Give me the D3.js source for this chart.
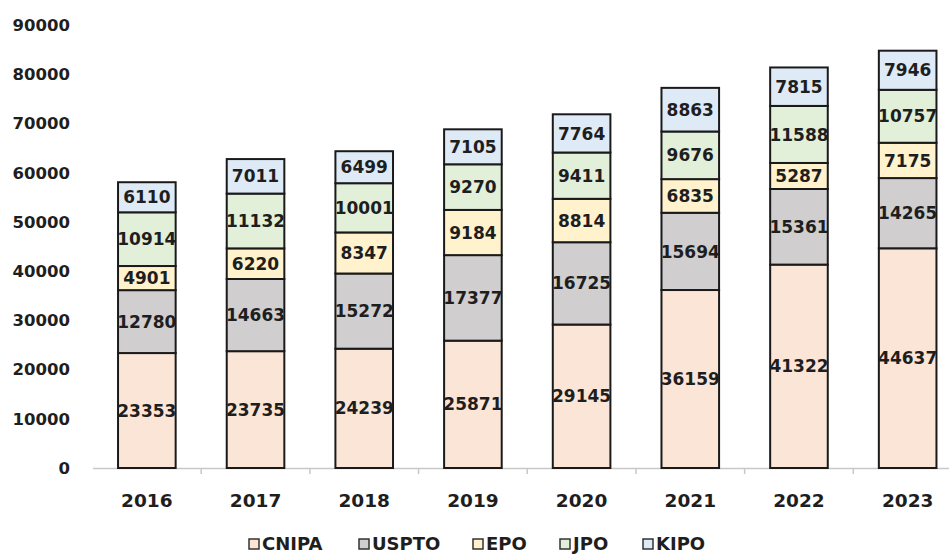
<!DOCTYPE html>
<html>
<head>
<meta charset="utf-8">
<script src="https://cdn.jsdelivr.net/npm/d3@7"></script>
<style>
  body { margin: 0; background: #fff; }
  text { font-family: "DejaVu Sans", Verdana, sans-serif; font-weight: bold; fill: #1e1e1e; }
</style>
</head>
<body>
<svg id="chart" width="949" height="554"></svg>
<script>
// data
var years = ["2016", "2017", "2018", "2019", "2020", "2021", "2022", "2023"];
var offices = ["CNIPA", "USPTO", "EPO", "JPO", "KIPO"];
var cnipa = [23353, 23735, 24239, 25871, 29145, 36159, 41322, 44637];
var uspto = [12780, 14663, 15272, 17377, 16725, 15694, 15361, 14265];
var epo   = [4901, 6220, 8347, 9184, 8814, 6835, 5287, 7175];
var jpo   = [10914, 11132, 10001, 9270, 9411, 9676, 11588, 10757];
var kipo  = [6110, 7011, 6499, 7105, 7764, 8863, 7815, 7946];
var yTicks = [0, 10000, 20000, 30000, 40000, 50000, 60000, 70000, 80000, 90000];
var colors = ["#fbe5d6", "#d0cece", "#fff2cc", "#e2f0d9", "#deebf7"];

var series = [cnipa, uspto, epo, jpo, kipo];
var rows = years.map(function(y, i) {
  var r = { year: y };
  offices.forEach(function(o, k) { r[o] = series[k][i]; });
  return r;
});

var svg = d3.select("#chart");

var x = d3.scaleBand().domain(years).range([92.5, 962]).paddingInner(0.47).paddingOuter(0.235);
var y = d3.scaleLinear().domain([0, 90000]).range([468, 25]);
var color = d3.scaleOrdinal().domain(offices).range(colors);

var stack = d3.stack().keys(offices)(rows);

// y axis labels (no line)
svg.append("g").selectAll("text")
  .data(yTicks)
  .enter().append("text")
  .attr("x", 70)
  .attr("y", function(d) { return y(d); })
  .attr("dy", "0.36em")
  .attr("text-anchor", "end")
  .style("font-size", "16.5px")
  .text(function(d) { return d; });

// x axis
var xAxis = svg.append("g")
  .attr("transform", "translate(0,468)")
  .call(d3.axisBottom(x).tickSize(0).tickPadding(26));
xAxis.select(".domain").attr("stroke", "#c8c8c8").attr("stroke-width", 1.5);
xAxis.selectAll("text")
  .style("font-size", "18.5px")
  .style("font-family", "DejaVu Sans, Verdana, sans-serif")
  .style("font-weight", "bold")
  .attr("fill", "#1e1e1e");

// little tick marks between categories
svg.append("g").selectAll("line")
  .data(years.slice(1))
  .enter().append("line")
  .attr("x1", function(d) { return x(d) - x.step() * x.paddingInner() / 2; })
  .attr("x2", function(d) { return x(d) - x.step() * x.paddingInner() / 2; })
  .attr("y1", 468).attr("y2", 474)
  .attr("stroke", "#c8c8c8").attr("stroke-width", 1.5);

// bars
var layers = svg.append("g").selectAll("g")
  .data(stack)
  .enter().append("g")
  .attr("fill", function(d) { return color(d.key); });

layers.selectAll("rect")
  .data(function(d) { return d; })
  .enter().append("rect")
  .attr("x", function(d) { return x(d.data.year); })
  .attr("y", function(d) { return y(d[1]); })
  .attr("width", x.bandwidth())
  .attr("height", function(d) { return y(d[0]) - y(d[1]); })
  .attr("stroke", "#1a1a1a")
  .attr("stroke-width", 2);

// segment labels
layers.selectAll("text")
  .data(function(d) { return d.map(function(p) { return { p: p, key: d.key }; }); })
  .enter().append("text")
  .attr("x", function(d) { return x(d.p.data.year) + x.bandwidth() / 2; })
  .attr("y", function(d) { return (y(d.p[0]) + y(d.p[1])) / 2; })
  .attr("dy", "0.36em")
  .attr("text-anchor", "middle")
  .style("font-size", "17px")
  .text(function(d) { return d.p.data[d.key]; });

// legend
var legendX = [249, 359, 473, 560, 643];
var legend = svg.append("g").selectAll("g")
  .data(offices)
  .enter().append("g")
  .attr("transform", function(d, i) { return "translate(" + legendX[i] + ",544)"; });

legend.append("rect")
  .attr("x", 0).attr("y", -5)
  .attr("width", 10).attr("height", 10)
  .attr("fill", function(d) { return color(d); })
  .attr("stroke", "#333").attr("stroke-width", 1.5);

legend.append("text")
  .attr("x", 13)
  .attr("dy", "0.36em")
  .style("font-size", "18px")
  .text(function(d) { return d; });
</script>
</body>
</html>
